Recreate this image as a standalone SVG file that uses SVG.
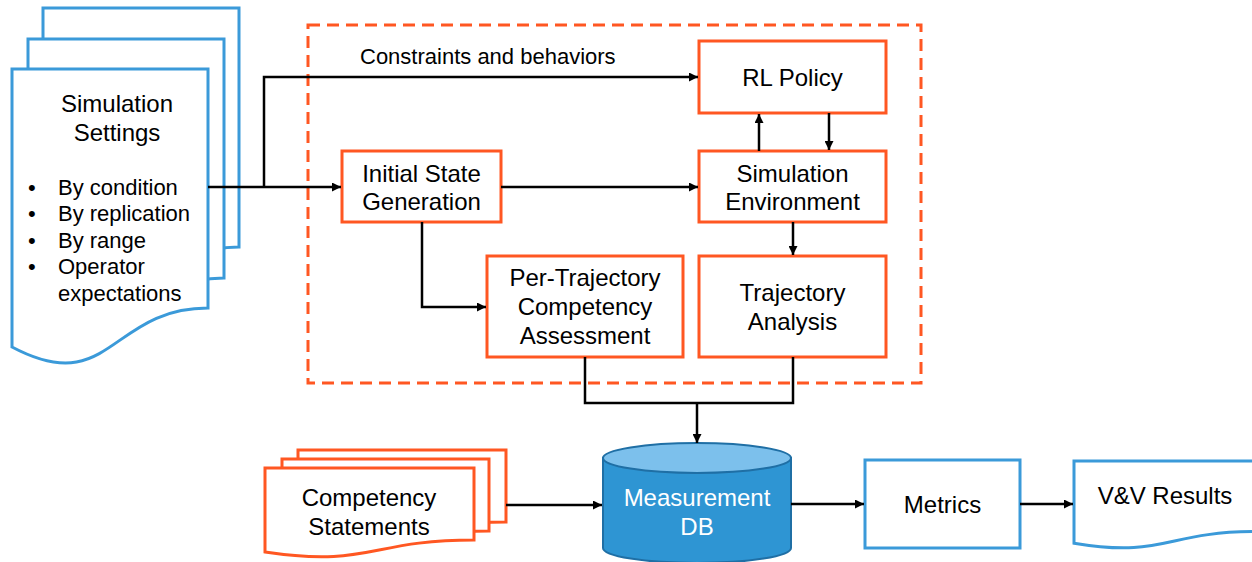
<svg xmlns="http://www.w3.org/2000/svg" width="1252" height="562" viewBox="0 0 1252 562">
<defs>
<marker id="ah" viewBox="0 0 10 10" refX="10" refY="5" markerWidth="9" markerHeight="9" markerUnits="userSpaceOnUse" orient="auto">
<path d="M0,0 L10,5 L0,10 Z" fill="#000"/>
</marker>
</defs>
<style>
text{font-family:"Liberation Sans",Arial,sans-serif;fill:#000}
.t24{font-size:24px;text-anchor:middle}
.t22{font-size:22px}
.ob{fill:#fff;stroke:#FF5722;stroke-width:3}
.bd{fill:#fff;stroke:#3B9AD9;stroke-width:3}
.od{fill:#fff;stroke:#FF5722;stroke-width:3}
.cn{fill:none;stroke:#000;stroke-width:2.5}
.ar{marker-end:url(#ah)}
</style>
<rect x="308" y="25" width="613" height="358" fill="none" stroke="#FF5722" stroke-width="3" stroke-dasharray="12 7"/>

<g id="sim-settings">
<path class="bd" d="M43,8 H239 V247 C141,247 141,338 43,286 Z"/>
<path class="bd" d="M28,39 H224 V278 C126,278 126,369 28,317 Z"/>
<path class="bd" d="M12,69 H208 V308 C110,308 110,399 12,347 Z"/>
<text class="t24" x="117" y="112">Simulation</text>
<text class="t24" x="117" y="141">Settings</text>
<g class="t22">
<text x="28" y="195">•</text><text x="58" y="195">By condition</text>
<text x="28" y="221">•</text><text x="58" y="221">By replication</text>
<text x="28" y="248">•</text><text x="58" y="248">By range</text>
<text x="28" y="274">•</text><text x="58" y="274">Operator</text>
<text x="58" y="301">expectations</text>
</g>
</g>

<g id="rl-policy">
<rect class="ob" x="699" y="41" width="187" height="72"/>
<text class="t24" x="792.5" y="86">RL Policy</text>
</g>
<g id="initial-state">
<rect class="ob" x="342" y="151" width="159" height="71"/>
<text class="t24" x="421.5" y="182">Initial State</text>
<text class="t24" x="421.5" y="210">Generation</text>
</g>
<g id="sim-env">
<rect class="ob" x="699" y="151" width="187" height="71"/>
<text class="t24" x="792.5" y="182">Simulation</text>
<text class="t24" x="792.5" y="210">Environment</text>
</g>
<g id="per-trajectory">
<rect class="ob" x="487" y="256" width="196" height="101"/>
<text class="t24" x="585" y="286">Per-Trajectory</text>
<text class="t24" x="585" y="315">Competency</text>
<text class="t24" x="585" y="344">Assessment</text>
</g>
<g id="trajectory-analysis">
<rect class="ob" x="699" y="256" width="187" height="101"/>
<text class="t24" x="792.5" y="301">Trajectory</text>
<text class="t24" x="792.5" y="330">Analysis</text>
</g>

<g id="competency-statements">
<path class="od" d="M298,450 H506 V522 C402,522 402,549.6 298,534 Z"/>
<path class="od" d="M282,459 H489 V531 C385.5,531 385.5,558.6 282,543 Z"/>
<path class="od" d="M265,468 H474 V540 C369.5,540 369.5,567.6 265,552 Z"/>
<text class="t24" x="369" y="506">Competency</text>
<text class="t24" x="369" y="535">Statements</text>
</g>

<g id="measurement-db">
<path d="M603,458 V548 A94,15 0 0 0 791,548 V458 Z" fill="#2E95D3" stroke="#1F6FA5" stroke-width="2"/>
<ellipse cx="697" cy="458" rx="94" ry="15" fill="#7CC0EC" stroke="#1F6FA5" stroke-width="2"/>
<text class="t24" x="697" y="506" style="fill:#fff">Measurement</text>
<text class="t24" x="697" y="535" style="fill:#fff">DB</text>
</g>

<g id="metrics">
<rect class="bd" x="865" y="460" width="155" height="88"/>
<text class="t24" x="942.5" y="513">Metrics</text>
</g>

<g id="vv-results">
<path class="bd" d="M1074,461 H1256 V531.6 C1165,531.6 1165,558.4 1074,543.2 Z"/>
<text class="t24" x="1165" y="504">V&amp;V Results</text>
</g>

<g id="connectors">
<path class="cn ar" d="M208,187 H341"/>
<path class="cn ar" d="M264,187 V77 H698"/>
<text class="t22" x="360" y="64">Constraints and behaviors</text>
<path class="cn ar" d="M501,187 H698"/>
<path class="cn ar" d="M759,151 V114"/>
<path class="cn ar" d="M829,113 V150"/>
<path class="cn ar" d="M793,222 V255"/>
<path class="cn ar" d="M422,222 V307 H486"/>
<path class="cn" d="M585,357 V403 H793 V357"/>
<path class="cn ar" d="M697,403 V443"/>
<path class="cn ar" d="M506,505 H602"/>
<path class="cn ar" d="M791,504 H864"/>
<path class="cn ar" d="M1020,504 H1073"/>
</g>
</svg>
